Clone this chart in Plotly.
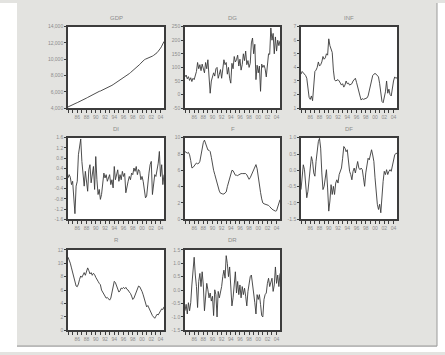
import plotly.graph_objects as go

W, H = 445, 355

# ---------------- data (quarterly, starting 1984Q1) ----------------
START_YEAR = 1984
TITLES = ["GDP", "DG", "INF", "DI", "F", "DF", "R", "DR"]

GDP = [4150, 4230, 4300, 4360, 4420, 4490, 4560, 4620, 4680, 4740, 4800, 4860,
       4930, 5000, 5080, 5160, 5240, 5320, 5400, 5480, 5570, 5650, 5730, 5800,
       5870, 5940, 6010, 6060, 6100, 6160, 6220, 6290, 6360, 6430, 6500, 6580,
       6650, 6720, 6800, 6890, 6980, 7070, 7160, 7250, 7330, 7410, 7500, 7590,
       7690, 7800, 7900, 8010, 8120, 8240, 8360, 8470, 8580, 8700, 8820, 8960,
       9090, 9220, 9360, 9520, 9700, 9850, 9930, 10010, 10060, 10100, 10150, 10220,
       10300, 10380, 10470, 10560, 10670, 10800, 10980, 11120, 11350, 11600, 11880, 12180]

DG = [65, 72, 58, 66, 52, 62, 48, 60, 55, 72, 85, 118, 95, 110, 88, 112, 100, 80, 118, 95,
      128, 70, 5, 50, 62, 80, 68, 95, 100, 60, 75, 92, 60, 100, 128, 110, 118, 75, 100, 60,
      42, 115, 95, 140, 120, 128, 145, 105, 130, 90, 110, 150, 125, 160, 110, 125, 100, 115,
      190, 208, 150, 185, 55, 108, 80, 105, 12, 112, 100, 108, 95, 65, 118, 150, 148, 245,
      200, 225, 150, 212, 160, 200, 180, 198]

INF = [3.5, 3.7, 3.6, 3.5, 3.4, 3.2, 2.3, 1.8, 1.65, 1.9, 1.55, 2.6, 3.7, 3.8, 4.0, 4.4,
       4.1, 4.2, 4.4, 4.8, 4.6, 4.7, 5.0, 4.9, 6.1, 5.6, 5.3, 5.1, 3.8, 3.1, 3.0, 3.05,
       3.1, 3.0, 2.8, 2.7, 2.8, 2.55, 2.7, 3.0, 2.8, 2.85, 2.7, 2.75, 2.8, 3.0, 3.1, 3.2,
       2.9, 2.5, 2.3, 1.9, 1.6, 1.7, 1.65, 1.7, 1.7, 1.75, 1.9, 2.3, 2.7, 3.1, 3.4, 3.5,
       3.55, 3.5, 3.4, 3.3, 2.8, 2.0, 1.5, 1.4, 1.8, 2.2, 3.0, 2.1, 2.4, 2.0, 1.9, 2.6,
       3.0, 3.3, 3.2, 3.25]

DI = [0.02, 0.15, 0.05, -0.24, -0.11, -0.89, -1.38, -0.3, -0.11, 0.93, 1.25, 1.55, 0.67,
      0.15, -0.3, 0.28, -0.05, -0.5, 0.34, 0.54, -0.17, 0.1, 0.47, -0.43, 0.86, -0.05,
      -0.63, -0.43, -0.82, -0.63, -0.11, 0.21, 0.02, 0.15, -0.11, 0.0, 0.15, -0.24, -0.05,
      -0.37, 0.47, -0.05, 0.15, 0.34, -0.11, 0.15, -0.05, 0.28, 0.08, 0.2, -0.56, -0.24,
      -0.11, 0.08, -0.05, 0.21, 0.15, 0.41, 0.28, 0.47, 0.15, 0.35, 0.28, -0.05, 0.08,
      -0.11, -0.43, -0.76, -0.69, -0.11, 0.21, 0.54, 0.67, -0.63, -0.17, 0.15, 0.08, 0.3,
      0.6, 1.06, 0.08, 0.54, -0.24, 0.15]

F = [8.3, 8.2, 8.1, 8.2, 7.9, 7.2, 6.3, 6.35, 6.5, 6.75, 6.9, 6.8, 6.85, 7.1, 8.0, 8.8,
     9.4, 9.7, 9.2, 8.7, 8.5, 8.45, 8.3, 7.6, 6.6, 6.0, 5.5, 4.9, 4.3, 3.8, 3.45, 3.2,
     3.1, 3.1, 3.1, 3.2, 3.35, 4.0, 4.5, 5.1, 5.7, 6.0, 5.95, 5.6, 5.4, 5.4, 5.35, 5.45,
     5.55, 5.6, 5.6, 5.6, 5.55, 5.6, 5.45, 5.05, 4.9, 5.1, 5.4, 5.85, 6.2, 6.45, 6.7, 6.2,
     5.0, 4.1, 3.3, 2.5, 2.0, 1.9, 1.85, 1.8, 1.75, 1.7, 1.55, 1.35, 1.25, 1.15, 1.1, 1.0,
     1.05, 1.6, 2.2, 2.4]

DF = [-0.59, -0.03, 0.17, 0.02, -0.44, -0.84, -0.64, -0.13, 0.07, 0.42, 0.27, -0.08,
      -0.18, 0.27, 0.68, 0.88, 0.98, 0.68, -0.08, -0.59, -0.49, -0.23, 0.02, -0.54,
      -1.25, -0.94, -0.44, -0.74, -0.49, -0.74, -0.39, -0.29, -0.39, -0.13, -0.03, 0.07,
      0.37, 0.73, 0.68, 0.57, 0.63, 0.32, -0.03, -0.13, -0.29, -0.03, 0.07, -0.08, 0.07,
      0.27, 0.07, 0.02, 0.07, 0.02, -0.23, -0.49, -0.08, 0.22, 0.37, 0.32, 0.52, 0.63,
      0.47, 0.27, -0.23, -0.74, -1.04, -1.2, -1.04, -1.3, -0.74, -0.34, -0.03, -0.13,
      0.02, -0.13, -0.03, 0.02, -0.03, 0.12, 0.37, 0.47, 0.52, 0.52]

R = [10.9, 10.5, 10.0, 9.3, 8.6, 7.8, 7.0, 6.6, 6.5, 6.9, 7.6, 8.1, 7.9, 8.3, 8.6, 8.2,
     8.9, 9.3, 8.9, 8.4, 8.6, 8.2, 8.5, 8.3, 7.9, 7.5, 7.3, 7.0, 6.8, 6.0, 5.7, 5.3,
     4.9, 4.8, 4.9, 4.6, 4.5, 4.8, 5.5, 6.4, 7.3, 7.1, 6.5, 6.0, 5.7, 5.9, 6.3, 6.2,
     6.4, 6.2, 6.4, 6.1, 6.0, 5.7, 5.5, 5.1, 4.6, 4.8, 5.3, 5.8, 6.2, 6.6, 6.5, 6.2,
     5.8, 5.3, 4.7, 4.1, 3.5, 3.7, 3.3, 3.0, 2.6, 2.2, 2.0, 1.8, 2.1, 2.4, 2.3, 2.7,
     2.9, 3.2, 3.1, 3.5]

DR = [-0.77, -0.53, -0.89, -0.47, -0.77, -0.47, 0.19, 0.68, 1.22, 0.56,
      0.13, -0.65, 0.32, 0.62, 0.13, 0.68, 0.19, -0.77, -0.11, 0.25,
      0.01, -0.29, -0.11, -0.41, -0.23, -0.95, 0.01, -0.17, -1.0, -0.05,
      -0.29, -0.11, 0.13, 0.5, 0.74, 0.44, 1.28, 0.98, 0.5, 0.86,
      0.13, -0.59, -0.29, 0.32, 0.68, -0.11, 0.32, -0.17, 0.19, -0.29,
      0.13, -0.17, 0.07, -0.23, -0.59, -0.05, 0.19, 0.5, 0.56, 0.25,
      -0.23, -0.47, -0.89, -0.17, -0.35, -0.17, -0.53, -0.95, -1.0, -0.35,
      -0.17, -0.11, 0.25, 0.44, 0.13, 0.32, 0.44, -0.05, 0.19, 0.86,
      0.25, 0.56, 0.13, 0.62]

SERIES = [GDP, DG, INF, DI, F, DF, R, DR]

X_TICK_YEARS = [1986, 1988, 1990, 1992, 1994, 1996, 1998, 2000, 2002, 2004]
X_TICK_TEXT = ["86", "88", "90", "92", "94", "96", "98", "00", "02", "04"]

Y_TICKS = [
    [4000, 6000, 8000, 10000, 12000, 14000],
    [-50, 0, 50, 100, 150, 200, 250],
    [1, 2, 3, 4, 5, 6, 7],
    [-1.6, -1.2, -0.8, -0.4, 0.0, 0.4, 0.8, 1.2, 1.6],
    [0, 2, 4, 6, 8, 10],
    [-1.5, -1.0, -0.5, 0.0, 0.5, 1.0],
    [0, 2, 4, 6, 8, 10, 12],
    [-1.5, -1.0, -0.5, 0.0, 0.5, 1.0, 1.5],
]
Y_TICK_TEXT = [
    ["4,000", "6,000", "8,000", "10,000", "12,000", "14,000"],
    ["-50", "0", "50", "100", "150", "200", "250"],
    ["1", "2", "3", "4", "5", "6", "7"],
    ["-1.6", "-1.2", "-0.8", "-0.4", "0.0", "0.4", "0.8", "1.2", "1.6"],
    ["0", "2", "4", "6", "8", "10"],
    ["-1.5", "-1.0", "-0.5", "0.0", "0.5", "1.0"],
    ["0", "2", "4", "6", "8", "10", "12"],
    ["-1.5", "-1.0", "-0.5", "0.0", "0.5", "1.0", "1.5"],
]

# ---------------- layout geometry (pixels) ----------------
COL_X = [(68, 164), (185, 280), (301, 397)]
ROW_Y = [(24, 107), (137, 220), (251, 333)]
TITLE_Y = [15, 128, 241]

def fx(px):
    return px / W

def fy(py):
    return 1 - py / H

fig = go.Figure()
layout = dict(
    width=W, height=H, margin=dict(l=0, r=0, t=0, b=0),
    paper_bgcolor="#e3e3e0", plot_bgcolor="#ffffff",
    showlegend=False, font=dict(family="Liberation Sans, Arial", size=5, color="#8a8a8a"),
)
annotations = []
FRAME = "#3c3c3c"
LABEL = "#8c8c8c"

for k, (name, vals) in enumerate(zip(TITLES, SERIES)):
    r, c = divmod(k, 3)
    ax = "" if k == 0 else str(k + 1)
    xs = [START_YEAR + q / 4 for q in range(len(vals))]
    fig.add_trace(go.Scatter(x=xs, y=vals, mode="lines",
                             line=dict(color="#3a3a3a", width=0.9),
                             xaxis="x" + ax, yaxis="y" + ax, hoverinfo="skip"))
    x0, x1 = COL_X[c]
    y0, y1 = ROW_Y[r]
    yt = Y_TICKS[k]
    layout["xaxis" + ax] = dict(
        domain=[fx(x0), fx(x1)], anchor="y" + ax,
        range=[START_YEAR, START_YEAR + (len(vals) - 1) / 4],
        tickvals=X_TICK_YEARS, ticktext=X_TICK_TEXT,
        ticks="outside", ticklen=3, tickwidth=1.2, tickcolor=FRAME,
        minor=dict(dtick=1, tick0=START_YEAR, ticks="outside", ticklen=3,
                   tickwidth=1.2, tickcolor=FRAME, showgrid=False),
        showgrid=False, zeroline=False, showline=True, mirror=True,
        linecolor=FRAME, linewidth=1.6,
        tickfont=dict(size=5, color=LABEL), fixedrange=True,
    )
    layout["yaxis" + ax] = dict(
        domain=[fy(y1), fy(y0)], anchor="x" + ax,
        range=[yt[0], yt[-1]], tickvals=yt, ticktext=Y_TICK_TEXT[k],
        ticks="outside", ticklen=2, tickwidth=1, tickcolor=FRAME,
        showgrid=False, zeroline=False, showline=True, mirror=True,
        linecolor=FRAME, linewidth=1.6,
        tickfont=dict(size=5, color=LABEL), fixedrange=True,
    )
    annotations.append(dict(
        text=name, x=fx((x0 + x1) / 2), y=fy(TITLE_Y[r]), xref="paper", yref="paper",
        showarrow=False, font=dict(size=6, color=LABEL), xanchor="center", yanchor="middle",
    ))

shapes = [
    # white outside the grey scanned page
    dict(type="rect", xref="paper", yref="paper", x0=0, x1=fx(17), y0=0, y1=1,
         fillcolor="#ffffff", line=dict(width=0), layer="below"),
    dict(type="rect", xref="paper", yref="paper", x0=fx(437), x1=1, y0=0, y1=1,
         fillcolor="#ffffff", line=dict(width=0), layer="below"),
    dict(type="rect", xref="paper", yref="paper", x0=0, x1=1, y0=0, y1=fy(349),
         fillcolor="#ffffff", line=dict(width=0), layer="below"),
    # page edges
    dict(type="line", xref="paper", yref="paper", x0=fx(17), x1=fx(437), y0=fy(349), y1=fy(349),
         line=dict(color="#8a8a8a", width=1)),
    dict(type="line", xref="paper", yref="paper", x0=fx(437), x1=fx(437), y0=fy(349), y1=1,
         line=dict(color="#9a9a9a", width=1)),
]
layout["annotations"] = annotations
layout["shapes"] = shapes
fig.update_layout(**layout)
fig.write_html("out.html")
